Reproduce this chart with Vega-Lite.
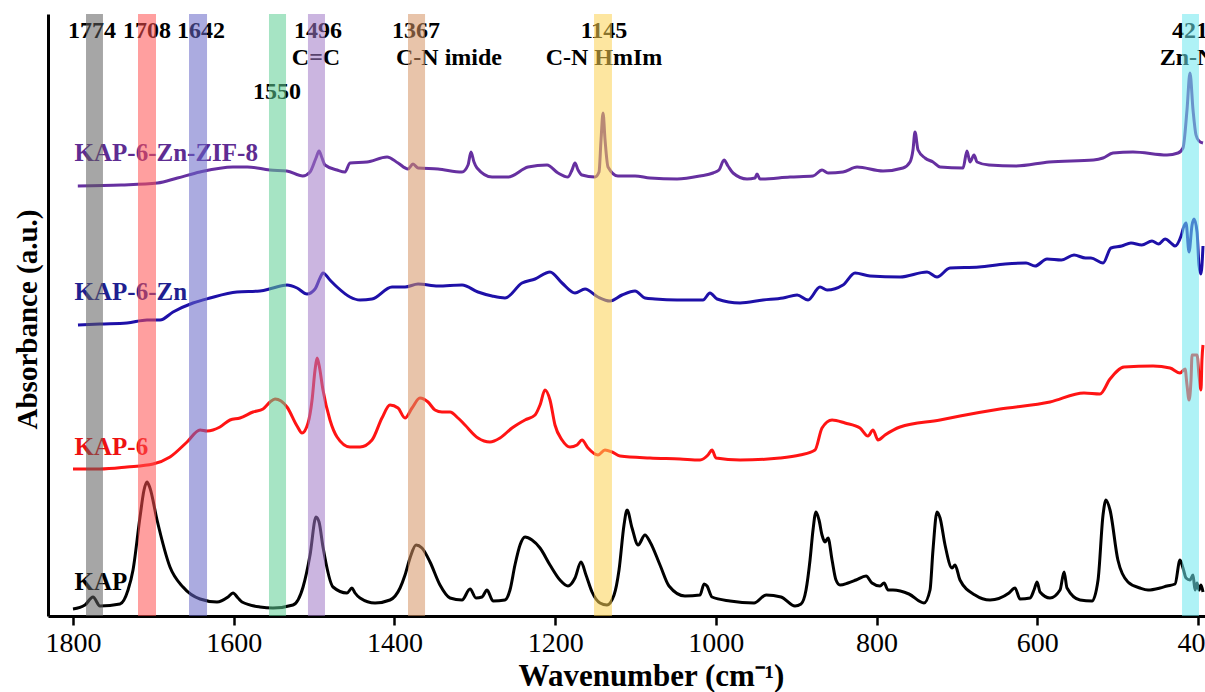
{
  "$schema": "https://vega.github.io/schema/vega-lite/v6.json",
  "width": 1157,
  "height": 602,
  "autosize": "none",
  "padding": {"left": 48, "top": 14, "right": 0, "bottom": 76},
  "background": "white",
  "config": {"view": {"stroke": null}},
  "datasets": {
    "spectra": [
      {"series":"KAP-6-Zn-ZIF-8","wavenumber":1794,"absorbance":4.30},{"series":"KAP-6-Zn-ZIF-8","wavenumber":1740,"absorbance":4.31},{"series":"KAP-6-Zn-ZIF-8","wavenumber":1695,"absorbance":4.33},{"series":"KAP-6-Zn-ZIF-8","wavenumber":1670,"absorbance":4.38},{"series":"KAP-6-Zn-ZIF-8","wavenumber":1642,"absorbance":4.44},{"series":"KAP-6-Zn-ZIF-8","wavenumber":1601,"absorbance":4.49},{"series":"KAP-6-Zn-ZIF-8","wavenumber":1583,"absorbance":4.49},{"series":"KAP-6-Zn-ZIF-8","wavenumber":1555,"absorbance":4.46},{"series":"KAP-6-Zn-ZIF-8","wavenumber":1534,"absorbance":4.45},{"series":"KAP-6-Zn-ZIF-8","wavenumber":1514,"absorbance":4.40},{"series":"KAP-6-Zn-ZIF-8","wavenumber":1505,"absorbance":4.44},{"series":"KAP-6-Zn-ZIF-8","wavenumber":1497.6,"absorbance":4.58},{"series":"KAP-6-Zn-ZIF-8","wavenumber":1493.8,"absorbance":4.65},{"series":"KAP-6-Zn-ZIF-8","wavenumber":1490.1,"absorbance":4.58},{"series":"KAP-6-Zn-ZIF-8","wavenumber":1486.4,"absorbance":4.51},{"series":"KAP-6-Zn-ZIF-8","wavenumber":1471.4,"absorbance":4.46},{"series":"KAP-6-Zn-ZIF-8","wavenumber":1461.5,"absorbance":4.44},{"series":"KAP-6-Zn-ZIF-8","wavenumber":1455.3,"absorbance":4.53},{"series":"KAP-6-Zn-ZIF-8","wavenumber":1434.1,"absorbance":4.54},{"series":"KAP-6-Zn-ZIF-8","wavenumber":1409.2,"absorbance":4.59},{"series":"KAP-6-Zn-ZIF-8","wavenumber":1395.5,"absorbance":4.53},{"series":"KAP-6-Zn-ZIF-8","wavenumber":1383.1,"absorbance":4.47},{"series":"KAP-6-Zn-ZIF-8","wavenumber":1376.9,"absorbance":4.52},{"series":"KAP-6-Zn-ZIF-8","wavenumber":1370.6,"absorbance":4.48},{"series":"KAP-6-Zn-ZIF-8","wavenumber":1345.8,"absorbance":4.47},{"series":"KAP-6-Zn-ZIF-8","wavenumber":1315.9,"absorbance":4.44},{"series":"KAP-6-Zn-ZIF-8","wavenumber":1308.4,"absorbance":4.51},{"series":"KAP-6-Zn-ZIF-8","wavenumber":1304.7,"absorbance":4.64},{"series":"KAP-6-Zn-ZIF-8","wavenumber":1301.0,"absorbance":4.54},{"series":"KAP-6-Zn-ZIF-8","wavenumber":1297.2,"absorbance":4.48},{"series":"KAP-6-Zn-ZIF-8","wavenumber":1278.5,"absorbance":4.39},{"series":"KAP-6-Zn-ZIF-8","wavenumber":1258.6,"absorbance":4.39},{"series":"KAP-6-Zn-ZIF-8","wavenumber":1233.7,"absorbance":4.49},{"series":"KAP-6-Zn-ZIF-8","wavenumber":1210.1,"absorbance":4.51},{"series":"KAP-6-Zn-ZIF-8","wavenumber":1196.4,"absorbance":4.43},{"series":"KAP-6-Zn-ZIF-8","wavenumber":1184.0,"absorbance":4.39},{"series":"KAP-6-Zn-ZIF-8","wavenumber":1179.0,"absorbance":4.46},{"series":"KAP-6-Zn-ZIF-8","wavenumber":1175.3,"absorbance":4.53},{"series":"KAP-6-Zn-ZIF-8","wavenumber":1171.5,"absorbance":4.46},{"series":"KAP-6-Zn-ZIF-8","wavenumber":1166.6,"absorbance":4.41},{"series":"KAP-6-Zn-ZIF-8","wavenumber":1150.4,"absorbance":4.39},{"series":"KAP-6-Zn-ZIF-8","wavenumber":1145.4,"absorbance":4.44},{"series":"KAP-6-Zn-ZIF-8","wavenumber":1142.9,"absorbance":4.76},{"series":"KAP-6-Zn-ZIF-8","wavenumber":1140.4,"absorbance":5.03},{"series":"KAP-6-Zn-ZIF-8","wavenumber":1137.9,"absorbance":4.76},{"series":"KAP-6-Zn-ZIF-8","wavenumber":1134.2,"absorbance":4.49},{"series":"KAP-6-Zn-ZIF-8","wavenumber":1121.8,"absorbance":4.40},{"series":"KAP-6-Zn-ZIF-8","wavenumber":1100.6,"absorbance":4.40},{"series":"KAP-6-Zn-ZIF-8","wavenumber":1081.9,"absorbance":4.38},{"series":"KAP-6-Zn-ZIF-8","wavenumber":1048.3,"absorbance":4.37},{"series":"KAP-6-Zn-ZIF-8","wavenumber":1019.7,"absorbance":4.40},{"series":"KAP-6-Zn-ZIF-8","wavenumber":1003.5,"absorbance":4.43},{"series":"KAP-6-Zn-ZIF-8","wavenumber":996.1,"absorbance":4.46},{"series":"KAP-6-Zn-ZIF-8","wavenumber":989.8,"absorbance":4.56},{"series":"KAP-6-Zn-ZIF-8","wavenumber":984.9,"absorbance":4.50},{"series":"KAP-6-Zn-ZIF-8","wavenumber":978.6,"absorbance":4.43},{"series":"KAP-6-Zn-ZIF-8","wavenumber":961.2,"absorbance":4.37},{"series":"KAP-6-Zn-ZIF-8","wavenumber":951.3,"absorbance":4.38},{"series":"KAP-6-Zn-ZIF-8","wavenumber":948.8,"absorbance":4.42},{"series":"KAP-6-Zn-ZIF-8","wavenumber":945.1,"absorbance":4.37},{"series":"KAP-6-Zn-ZIF-8","wavenumber":907.7,"absorbance":4.39},{"series":"KAP-6-Zn-ZIF-8","wavenumber":879.1,"absorbance":4.40},{"series":"KAP-6-Zn-ZIF-8","wavenumber":867.9,"absorbance":4.46},{"series":"KAP-6-Zn-ZIF-8","wavenumber":860.4,"absorbance":4.43},{"series":"KAP-6-Zn-ZIF-8","wavenumber":841.8,"absorbance":4.44},{"series":"KAP-6-Zn-ZIF-8","wavenumber":824.3,"absorbance":4.49},{"series":"KAP-6-Zn-ZIF-8","wavenumber":792.0,"absorbance":4.45},{"series":"KAP-6-Zn-ZIF-8","wavenumber":767.1,"absorbance":4.48},{"series":"KAP-6-Zn-ZIF-8","wavenumber":758.4,"absorbance":4.54},{"series":"KAP-6-Zn-ZIF-8","wavenumber":754.7,"absorbance":4.66},{"series":"KAP-6-Zn-ZIF-8","wavenumber":752.2,"absorbance":4.84},{"series":"KAP-6-Zn-ZIF-8","wavenumber":748.4,"absorbance":4.66},{"series":"KAP-6-Zn-ZIF-8","wavenumber":739.7,"absorbance":4.58},{"series":"KAP-6-Zn-ZIF-8","wavenumber":729.8,"absorbance":4.54},{"series":"KAP-6-Zn-ZIF-8","wavenumber":721.0,"absorbance":4.49},{"series":"KAP-6-Zn-ZIF-8","wavenumber":692.4,"absorbance":4.48},{"series":"KAP-6-Zn-ZIF-8","wavenumber":687.5,"absorbance":4.65},{"series":"KAP-6-Zn-ZIF-8","wavenumber":683.7,"absorbance":4.54},{"series":"KAP-6-Zn-ZIF-8","wavenumber":678.7,"absorbance":4.61},{"series":"KAP-6-Zn-ZIF-8","wavenumber":675.0,"absorbance":4.54},{"series":"KAP-6-Zn-ZIF-8","wavenumber":660.1,"absorbance":4.51},{"series":"KAP-6-Zn-ZIF-8","wavenumber":626.5,"absorbance":4.50},{"series":"KAP-6-Zn-ZIF-8","wavenumber":585.4,"absorbance":4.54},{"series":"KAP-6-Zn-ZIF-8","wavenumber":530.0,"absorbance":4.56},{"series":"KAP-6-Zn-ZIF-8","wavenumber":518.2,"absorbance":4.58},{"series":"KAP-6-Zn-ZIF-8","wavenumber":505.8,"absorbance":4.63},{"series":"KAP-6-Zn-ZIF-8","wavenumber":480.9,"absorbance":4.64},{"series":"KAP-6-Zn-ZIF-8","wavenumber":438.6,"absorbance":4.61},{"series":"KAP-6-Zn-ZIF-8","wavenumber":424.9,"absorbance":4.63},{"series":"KAP-6-Zn-ZIF-8","wavenumber":418.7,"absorbance":4.68},{"series":"KAP-6-Zn-ZIF-8","wavenumber":413.7,"absorbance":5.06},{"series":"KAP-6-Zn-ZIF-8","wavenumber":410.0,"absorbance":5.43},{"series":"KAP-6-Zn-ZIF-8","wavenumber":406.2,"absorbance":5.06},{"series":"KAP-6-Zn-ZIF-8","wavenumber":402.5,"absorbance":4.81},{"series":"KAP-6-Zn-ZIF-8","wavenumber":398.8,"absorbance":4.75},{"series":"KAP-6-Zn-ZIF-8","wavenumber":393.8,"absorbance":4.73},

      {"series":"KAP-6-Zn","wavenumber":1793.8,"absorbance":2.91},{"series":"KAP-6-Zn","wavenumber":1766.4,"absorbance":2.92},{"series":"KAP-6-Zn","wavenumber":1732.8,"absorbance":2.93},{"series":"KAP-6-Zn","wavenumber":1707.9,"absorbance":2.96},{"series":"KAP-6-Zn","wavenumber":1691.7,"absorbance":2.96},{"series":"KAP-6-Zn","wavenumber":1675.5,"absorbance":3.04},{"series":"KAP-6-Zn","wavenumber":1650.7,"absorbance":3.13},{"series":"KAP-6-Zn","wavenumber":1629.5,"absorbance":3.18},{"series":"KAP-6-Zn","wavenumber":1595.9,"absorbance":3.24},{"series":"KAP-6-Zn","wavenumber":1567.3,"absorbance":3.25},{"series":"KAP-6-Zn","wavenumber":1551.1,"absorbance":3.28},{"series":"KAP-6-Zn","wavenumber":1533.7,"absorbance":3.31},{"series":"KAP-6-Zn","wavenumber":1521.2,"absorbance":3.28},{"series":"KAP-6-Zn","wavenumber":1508.8,"absorbance":3.22},{"series":"KAP-6-Zn","wavenumber":1498.8,"absorbance":3.27},{"series":"KAP-6-Zn","wavenumber":1492.6,"absorbance":3.38},{"series":"KAP-6-Zn","wavenumber":1488.9,"absorbance":3.43},{"series":"KAP-6-Zn","wavenumber":1480.2,"absorbance":3.36},{"series":"KAP-6-Zn","wavenumber":1471.4,"absorbance":3.29},{"series":"KAP-6-Zn","wavenumber":1455.3,"absorbance":3.19},{"series":"KAP-6-Zn","wavenumber":1442.8,"absorbance":3.16},{"series":"KAP-6-Zn","wavenumber":1427.9,"absorbance":3.17},{"series":"KAP-6-Zn","wavenumber":1403.0,"absorbance":3.29},{"series":"KAP-6-Zn","wavenumber":1386.8,"absorbance":3.29},{"series":"KAP-6-Zn","wavenumber":1370.6,"absorbance":3.32},{"series":"KAP-6-Zn","wavenumber":1345.8,"absorbance":3.30},{"series":"KAP-6-Zn","wavenumber":1315.9,"absorbance":3.31},{"series":"KAP-6-Zn","wavenumber":1296.0,"absorbance":3.24},{"series":"KAP-6-Zn","wavenumber":1278.5,"absorbance":3.20},{"series":"KAP-6-Zn","wavenumber":1262.4,"absorbance":3.18},{"series":"KAP-6-Zn","wavenumber":1241.2,"absorbance":3.33},{"series":"KAP-6-Zn","wavenumber":1225.0,"absorbance":3.37},{"series":"KAP-6-Zn","wavenumber":1206.4,"absorbance":3.44},{"series":"KAP-6-Zn","wavenumber":1191.4,"absorbance":3.33},{"series":"KAP-6-Zn","wavenumber":1175.3,"absorbance":3.23},{"series":"KAP-6-Zn","wavenumber":1162.8,"absorbance":3.27},{"series":"KAP-6-Zn","wavenumber":1146.7,"absorbance":3.19},{"series":"KAP-6-Zn","wavenumber":1131.7,"absorbance":3.15},{"series":"KAP-6-Zn","wavenumber":1116.8,"absorbance":3.21},{"series":"KAP-6-Zn","wavenumber":1100.6,"absorbance":3.25},{"series":"KAP-6-Zn","wavenumber":1088.2,"absorbance":3.18},{"series":"KAP-6-Zn","wavenumber":1075.7,"absorbance":3.17},{"series":"KAP-6-Zn","wavenumber":1048.3,"absorbance":3.16},{"series":"KAP-6-Zn","wavenumber":1016.0,"absorbance":3.16},{"series":"KAP-6-Zn","wavenumber":1007.3,"absorbance":3.23},{"series":"KAP-6-Zn","wavenumber":998.5,"absorbance":3.17},{"series":"KAP-6-Zn","wavenumber":969.9,"absorbance":3.13},{"series":"KAP-6-Zn","wavenumber":941.3,"absorbance":3.16},{"series":"KAP-6-Zn","wavenumber":916.4,"absorbance":3.18},{"series":"KAP-6-Zn","wavenumber":898.9,"absorbance":3.21},{"series":"KAP-6-Zn","wavenumber":885.3,"absorbance":3.16},{"series":"KAP-6-Zn","wavenumber":870.4,"absorbance":3.29},{"series":"KAP-6-Zn","wavenumber":861.6,"absorbance":3.26},{"series":"KAP-6-Zn","wavenumber":841.8,"absorbance":3.31},{"series":"KAP-6-Zn","wavenumber":826.8,"absorbance":3.43},{"series":"KAP-6-Zn","wavenumber":808.2,"absorbance":3.40},{"series":"KAP-6-Zn","wavenumber":770.8,"absorbance":3.39},{"series":"KAP-6-Zn","wavenumber":737.2,"absorbance":3.44},{"series":"KAP-6-Zn","wavenumber":724.8,"absorbance":3.39},{"series":"KAP-6-Zn","wavenumber":708.6,"absorbance":3.48},{"series":"KAP-6-Zn","wavenumber":672.5,"absorbance":3.49},{"series":"KAP-6-Zn","wavenumber":640.0,"absorbance":3.52},{"series":"KAP-6-Zn","wavenumber":614.0,"absorbance":3.53},{"series":"KAP-6-Zn","wavenumber":602.8,"absorbance":3.50},{"series":"KAP-6-Zn","wavenumber":587.9,"absorbance":3.57},{"series":"KAP-6-Zn","wavenumber":570.0,"absorbance":3.56},{"series":"KAP-6-Zn","wavenumber":554.3,"absorbance":3.61},{"series":"KAP-6-Zn","wavenumber":540.0,"absorbance":3.58},{"series":"KAP-6-Zn","wavenumber":533.2,"absorbance":3.58},{"series":"KAP-6-Zn","wavenumber":518.2,"absorbance":3.53},{"series":"KAP-6-Zn","wavenumber":508.3,"absorbance":3.68},{"series":"KAP-6-Zn","wavenumber":495.0,"absorbance":3.70},{"series":"KAP-6-Zn","wavenumber":483.4,"absorbance":3.73},{"series":"KAP-6-Zn","wavenumber":470.0,"absorbance":3.71},{"series":"KAP-6-Zn","wavenumber":457.3,"absorbance":3.75},{"series":"KAP-6-Zn","wavenumber":449.0,"absorbance":3.72},{"series":"KAP-6-Zn","wavenumber":441.0,"absorbance":3.77},{"series":"KAP-6-Zn","wavenumber":432.3,"absorbance":3.72},{"series":"KAP-6-Zn","wavenumber":428.6,"absorbance":3.70},{"series":"KAP-6-Zn","wavenumber":421.1,"absorbance":3.80},{"series":"KAP-6-Zn","wavenumber":417.4,"absorbance":3.90},{"series":"KAP-6-Zn","wavenumber":414.9,"absorbance":3.93},{"series":"KAP-6-Zn","wavenumber":411.2,"absorbance":3.64},{"series":"KAP-6-Zn","wavenumber":407.4,"absorbance":3.91},{"series":"KAP-6-Zn","wavenumber":404.9,"absorbance":3.97},{"series":"KAP-6-Zn","wavenumber":401.2,"absorbance":3.84},{"series":"KAP-6-Zn","wavenumber":398.8,"absorbance":3.51},{"series":"KAP-6-Zn","wavenumber":396.3,"absorbance":3.42},{"series":"KAP-6-Zn","wavenumber":393.8,"absorbance":3.70},

      {"series":"KAP-6","wavenumber":1800,"absorbance":1.47},{"series":"KAP-6","wavenumber":1766.4,"absorbance":1.47},{"series":"KAP-6","wavenumber":1732.8,"absorbance":1.49},{"series":"KAP-6","wavenumber":1700.4,"absorbance":1.52},{"series":"KAP-6","wavenumber":1679.3,"absorbance":1.59},{"series":"KAP-6","wavenumber":1658.1,"absorbance":1.74},{"series":"KAP-6","wavenumber":1641.9,"absorbance":1.86},{"series":"KAP-6","wavenumber":1633.2,"absorbance":1.85},{"series":"KAP-6","wavenumber":1617.1,"absorbance":1.89},{"series":"KAP-6","wavenumber":1604.6,"absorbance":1.96},{"series":"KAP-6","wavenumber":1592.2,"absorbance":1.98},{"series":"KAP-6","wavenumber":1576.0,"absorbance":2.04},{"series":"KAP-6","wavenumber":1563.5,"absorbance":2.07},{"series":"KAP-6","wavenumber":1554.8,"absorbance":2.14},{"series":"KAP-6","wavenumber":1548.6,"absorbance":2.17},{"series":"KAP-6","wavenumber":1541.1,"absorbance":2.15},{"series":"KAP-6","wavenumber":1533.7,"absorbance":2.09},{"series":"KAP-6","wavenumber":1521.2,"absorbance":1.90},{"series":"KAP-6","wavenumber":1515.0,"absorbance":1.83},{"series":"KAP-6","wavenumber":1507.5,"absorbance":1.93},{"series":"KAP-6","wavenumber":1502.5,"absorbance":2.16},{"series":"KAP-6","wavenumber":1498.8,"absorbance":2.46},{"series":"KAP-6","wavenumber":1496.3,"absorbance":2.58},{"series":"KAP-6","wavenumber":1493.8,"absorbance":2.51},{"series":"KAP-6","wavenumber":1488.9,"absorbance":2.26},{"series":"KAP-6","wavenumber":1480.2,"absorbance":1.96},{"series":"KAP-6","wavenumber":1471.4,"absorbance":1.79},{"series":"KAP-6","wavenumber":1455.3,"absorbance":1.69},{"series":"KAP-6","wavenumber":1442.8,"absorbance":1.69},{"series":"KAP-6","wavenumber":1427.9,"absorbance":1.76},{"series":"KAP-6","wavenumber":1415.5,"absorbance":1.98},{"series":"KAP-6","wavenumber":1405.5,"absorbance":2.11},{"series":"KAP-6","wavenumber":1395.5,"absorbance":2.08},{"series":"KAP-6","wavenumber":1386.8,"absorbance":1.98},{"series":"KAP-6","wavenumber":1378.1,"absorbance":2.08},{"series":"KAP-6","wavenumber":1368.2,"absorbance":2.18},{"series":"KAP-6","wavenumber":1358.2,"absorbance":2.14},{"series":"KAP-6","wavenumber":1349.5,"absorbance":2.06},{"series":"KAP-6","wavenumber":1340.8,"absorbance":2.04},{"series":"KAP-6","wavenumber":1330.8,"absorbance":2.04},{"series":"KAP-6","wavenumber":1320.9,"absorbance":1.98},{"series":"KAP-6","wavenumber":1312.2,"absorbance":1.91},{"series":"KAP-6","wavenumber":1296.0,"absorbance":1.78},{"series":"KAP-6","wavenumber":1281.1,"absorbance":1.74},{"series":"KAP-6","wavenumber":1268.6,"absorbance":1.78},{"series":"KAP-6","wavenumber":1253.7,"absorbance":1.88},{"series":"KAP-6","wavenumber":1237.5,"absorbance":1.96},{"series":"KAP-6","wavenumber":1225.0,"absorbance":2.01},{"series":"KAP-6","wavenumber":1218.8,"absorbance":2.11},{"series":"KAP-6","wavenumber":1212.6,"absorbance":2.26},{"series":"KAP-6","wavenumber":1206.4,"absorbance":2.16},{"series":"KAP-6","wavenumber":1200.2,"absorbance":1.91},{"series":"KAP-6","wavenumber":1191.4,"absorbance":1.76},{"series":"KAP-6","wavenumber":1181.5,"absorbance":1.69},{"series":"KAP-6","wavenumber":1172.8,"absorbance":1.71},{"series":"KAP-6","wavenumber":1166.6,"absorbance":1.76},{"series":"KAP-6","wavenumber":1159.1,"absorbance":1.68},{"series":"KAP-6","wavenumber":1146.7,"absorbance":1.61},{"series":"KAP-6","wavenumber":1138.0,"absorbance":1.66},{"series":"KAP-6","wavenumber":1129.2,"absorbance":1.64},{"series":"KAP-6","wavenumber":1119.3,"absorbance":1.60},{"series":"KAP-6","wavenumber":1081.9,"absorbance":1.58},{"series":"KAP-6","wavenumber":1044.6,"absorbance":1.57},{"series":"KAP-6","wavenumber":1019.7,"absorbance":1.56},{"series":"KAP-6","wavenumber":1009.8,"absorbance":1.61},{"series":"KAP-6","wavenumber":1004.8,"absorbance":1.66},{"series":"KAP-6","wavenumber":999.8,"absorbance":1.58},{"series":"KAP-6","wavenumber":969.9,"absorbance":1.56},{"series":"KAP-6","wavenumber":920.2,"absorbance":1.58},{"series":"KAP-6","wavenumber":895.3,"absorbance":1.61},{"series":"KAP-6","wavenumber":876.6,"absorbance":1.66},{"series":"KAP-6","wavenumber":867.9,"absorbance":1.88},{"series":"KAP-6","wavenumber":855.4,"absorbance":1.96},{"series":"KAP-6","wavenumber":839.3,"absorbance":1.93},{"series":"KAP-6","wavenumber":820.6,"absorbance":1.88},{"series":"KAP-6","wavenumber":810.7,"absorbance":1.80},{"series":"KAP-6","wavenumber":804.4,"absorbance":1.86},{"series":"KAP-6","wavenumber":798.2,"absorbance":1.76},{"series":"KAP-6","wavenumber":789.5,"absorbance":1.81},{"series":"KAP-6","wavenumber":770.8,"absorbance":1.89},{"series":"KAP-6","wavenumber":721.0,"absorbance":1.96},{"series":"KAP-6","wavenumber":696.2,"absorbance":2.00},{"series":"KAP-6","wavenumber":646.4,"absorbance":2.07},{"series":"KAP-6","wavenumber":584.2,"absorbance":2.14},{"series":"KAP-6","wavenumber":541.9,"absorbance":2.23},{"series":"KAP-6","wavenumber":522.0,"absorbance":2.22},{"series":"KAP-6","wavenumber":509.5,"absorbance":2.37},{"series":"KAP-6","wavenumber":492.0,"absorbance":2.49},{"series":"KAP-6","wavenumber":456.0,"absorbance":2.50},{"series":"KAP-6","wavenumber":434.8,"absorbance":2.48},{"series":"KAP-6","wavenumber":422.4,"absorbance":2.43},{"series":"KAP-6","wavenumber":416.1,"absorbance":2.47},{"series":"KAP-6","wavenumber":413.7,"absorbance":2.31},{"series":"KAP-6","wavenumber":411.2,"absorbance":2.16},{"series":"KAP-6","wavenumber":408.7,"absorbance":2.36},{"series":"KAP-6","wavenumber":407.4,"absorbance":2.61},{"series":"KAP-6","wavenumber":401.2,"absorbance":2.61},{"series":"KAP-6","wavenumber":398.8,"absorbance":2.41},{"series":"KAP-6","wavenumber":396.3,"absorbance":2.26},{"series":"KAP-6","wavenumber":395.1,"absorbance":2.56},{"series":"KAP-6","wavenumber":393.8,"absorbance":2.71},

      {"series":"KAP","wavenumber":1800,"absorbance":0.07},{"series":"KAP","wavenumber":1785.1,"absorbance":0.11},{"series":"KAP","wavenumber":1775.1,"absorbance":0.19},{"series":"KAP","wavenumber":1766.4,"absorbance":0.10},{"series":"KAP","wavenumber":1741.5,"absorbance":0.12},{"series":"KAP","wavenumber":1731.5,"absorbance":0.26},{"series":"KAP","wavenumber":1725.3,"absorbance":0.46},{"series":"KAP","wavenumber":1716.6,"absorbance":0.99},{"series":"KAP","wavenumber":1711.6,"absorbance":1.26},{"series":"KAP","wavenumber":1707.9,"absorbance":1.34},{"series":"KAP","wavenumber":1704.2,"absorbance":1.28},{"series":"KAP","wavenumber":1695.4,"absorbance":0.96},{"series":"KAP","wavenumber":1679.3,"absorbance":0.49},{"series":"KAP","wavenumber":1663.1,"absorbance":0.29},{"series":"KAP","wavenumber":1641.9,"absorbance":0.17},{"series":"KAP","wavenumber":1620.8,"absorbance":0.14},{"series":"KAP","wavenumber":1607.1,"absorbance":0.19},{"series":"KAP","wavenumber":1600.9,"absorbance":0.23},{"series":"KAP","wavenumber":1594.6,"absorbance":0.18},{"series":"KAP","wavenumber":1589.6,"absorbance":0.14},{"series":"KAP","wavenumber":1567.3,"absorbance":0.09},{"series":"KAP","wavenumber":1551.1,"absorbance":0.08},{"series":"KAP","wavenumber":1526.2,"absorbance":0.11},{"series":"KAP","wavenumber":1513.7,"absorbance":0.29},{"series":"KAP","wavenumber":1505.0,"absorbance":0.61},{"series":"KAP","wavenumber":1497.6,"absorbance":0.99},{"series":"KAP","wavenumber":1493.8,"absorbance":0.94},{"series":"KAP","wavenumber":1488.9,"absorbance":0.69},{"series":"KAP","wavenumber":1476.4,"absorbance":0.29},{"series":"KAP","wavenumber":1459.0,"absorbance":0.23},{"series":"KAP","wavenumber":1452.8,"absorbance":0.28},{"series":"KAP","wavenumber":1449.0,"absorbance":0.23},{"series":"KAP","wavenumber":1442.8,"absorbance":0.18},{"series":"KAP","wavenumber":1424.1,"absorbance":0.13},{"series":"KAP","wavenumber":1405.5,"absorbance":0.16},{"series":"KAP","wavenumber":1393.0,"absorbance":0.28},{"series":"KAP","wavenumber":1386.8,"absorbance":0.41},{"series":"KAP","wavenumber":1380.6,"absorbance":0.58},{"series":"KAP","wavenumber":1373.1,"absorbance":0.71},{"series":"KAP","wavenumber":1365.7,"absorbance":0.68},{"series":"KAP","wavenumber":1355.7,"absorbance":0.54},{"series":"KAP","wavenumber":1343.3,"absorbance":0.31},{"series":"KAP","wavenumber":1330.8,"absorbance":0.18},{"series":"KAP","wavenumber":1315.9,"absorbance":0.16},{"series":"KAP","wavenumber":1305.9,"absorbance":0.27},{"series":"KAP","wavenumber":1298.5,"absorbance":0.18},{"series":"KAP","wavenumber":1291.0,"absorbance":0.19},{"series":"KAP","wavenumber":1284.8,"absorbance":0.26},{"series":"KAP","wavenumber":1277.3,"absorbance":0.15},{"series":"KAP","wavenumber":1262.4,"absorbance":0.16},{"series":"KAP","wavenumber":1256.2,"absorbance":0.26},{"series":"KAP","wavenumber":1250.0,"absorbance":0.51},{"series":"KAP","wavenumber":1243.7,"absorbance":0.71},{"series":"KAP","wavenumber":1237.5,"absorbance":0.79},{"series":"KAP","wavenumber":1228.8,"absorbance":0.76},{"series":"KAP","wavenumber":1218.8,"absorbance":0.68},{"series":"KAP","wavenumber":1206.4,"absorbance":0.51},{"series":"KAP","wavenumber":1194.0,"absorbance":0.36},{"series":"KAP","wavenumber":1184.0,"absorbance":0.30},{"series":"KAP","wavenumber":1175.3,"absorbance":0.38},{"series":"KAP","wavenumber":1167.8,"absorbance":0.54},{"series":"KAP","wavenumber":1161.6,"absorbance":0.41},{"series":"KAP","wavenumber":1154.1,"absorbance":0.24},{"series":"KAP","wavenumber":1144.2,"absorbance":0.13},{"series":"KAP","wavenumber":1135.5,"absorbance":0.11},{"series":"KAP","wavenumber":1126.7,"absorbance":0.21},{"series":"KAP","wavenumber":1120.5,"absorbance":0.46},{"series":"KAP","wavenumber":1114.3,"absorbance":0.91},{"series":"KAP","wavenumber":1110.5,"absorbance":1.06},{"series":"KAP","wavenumber":1104.3,"absorbance":0.88},{"series":"KAP","wavenumber":1096.8,"absorbance":0.71},{"series":"KAP","wavenumber":1088.2,"absorbance":0.81},{"series":"KAP","wavenumber":1081.9,"absorbance":0.74},{"series":"KAP","wavenumber":1069.5,"absorbance":0.51},{"series":"KAP","wavenumber":1058.3,"absorbance":0.30},{"series":"KAP","wavenumber":1038.4,"absorbance":0.20},{"series":"KAP","wavenumber":1019.7,"absorbance":0.21},{"series":"KAP","wavenumber":1014.7,"absorbance":0.32},{"series":"KAP","wavenumber":1011.0,"absorbance":0.30},{"series":"KAP","wavenumber":1004.8,"absorbance":0.19},{"series":"KAP","wavenumber":982.4,"absorbance":0.15},{"series":"KAP","wavenumber":952.5,"absorbance":0.13},{"series":"KAP","wavenumber":937.5,"absorbance":0.21},{"series":"KAP","wavenumber":918.9,"absorbance":0.19},{"series":"KAP","wavenumber":901.5,"absorbance":0.10},{"series":"KAP","wavenumber":894.0,"absorbance":0.12},{"series":"KAP","wavenumber":887.8,"absorbance":0.26},{"series":"KAP","wavenumber":882.8,"absorbance":0.56},{"series":"KAP","wavenumber":879.1,"absorbance":0.86},{"series":"KAP","wavenumber":875.4,"absorbance":1.04},{"series":"KAP","wavenumber":871.6,"absorbance":0.96},{"series":"KAP","wavenumber":867.9,"absorbance":0.81},{"series":"KAP","wavenumber":864.2,"absorbance":0.74},{"series":"KAP","wavenumber":860.4,"absorbance":0.78},{"series":"KAP","wavenumber":855.4,"absorbance":0.56},{"series":"KAP","wavenumber":850.5,"absorbance":0.36},{"series":"KAP","wavenumber":845.5,"absorbance":0.31},{"series":"KAP","wavenumber":835.5,"absorbance":0.33},{"series":"KAP","wavenumber":825.6,"absorbance":0.36},{"series":"KAP","wavenumber":813.1,"absorbance":0.40},{"series":"KAP","wavenumber":805.7,"absorbance":0.33},{"series":"KAP","wavenumber":795.7,"absorbance":0.30},{"series":"KAP","wavenumber":790.7,"absorbance":0.33},{"series":"KAP","wavenumber":785.7,"absorbance":0.26},{"series":"KAP","wavenumber":779.6,"absorbance":0.26},{"series":"KAP","wavenumber":759.7,"absorbance":0.22},{"series":"KAP","wavenumber":741.0,"absorbance":0.13},{"series":"KAP","wavenumber":733.5,"absorbance":0.26},{"series":"KAP","wavenumber":729.8,"absorbance":0.66},{"series":"KAP","wavenumber":724.8,"absorbance":1.04},{"series":"KAP","wavenumber":721.0,"absorbance":0.98},{"series":"KAP","wavenumber":714.8,"absorbance":0.71},{"series":"KAP","wavenumber":706.1,"absorbance":0.48},{"series":"KAP","wavenumber":702.4,"absorbance":0.51},{"series":"KAP","wavenumber":696.2,"absorbance":0.36},{"series":"KAP","wavenumber":677.5,"absorbance":0.21},{"series":"KAP","wavenumber":658.8,"absorbance":0.16},{"series":"KAP","wavenumber":635.2,"absorbance":0.23},{"series":"KAP","wavenumber":627.7,"absorbance":0.28},{"series":"KAP","wavenumber":621.5,"absorbance":0.17},{"series":"KAP","wavenumber":609.0,"absorbance":0.18},{"series":"KAP","wavenumber":604.1,"absorbance":0.26},{"series":"KAP","wavenumber":600.3,"absorbance":0.34},{"series":"KAP","wavenumber":596.6,"absorbance":0.24},{"series":"KAP","wavenumber":584.2,"absorbance":0.18},{"series":"KAP","wavenumber":571.7,"absorbance":0.26},{"series":"KAP","wavenumber":566.7,"absorbance":0.44},{"series":"KAP","wavenumber":563.0,"absorbance":0.28},{"series":"KAP","wavenumber":546.8,"absorbance":0.16},{"series":"KAP","wavenumber":531.9,"absorbance":0.15},{"series":"KAP","wavenumber":524.4,"absorbance":0.36},{"series":"KAP","wavenumber":518.2,"absorbance":1.01},{"series":"KAP","wavenumber":514.5,"absorbance":1.16},{"series":"KAP","wavenumber":509.5,"absorbance":1.06},{"series":"KAP","wavenumber":499.7,"absorbance":0.56},{"series":"KAP","wavenumber":487.2,"absorbance":0.34},{"series":"KAP","wavenumber":472.2,"absorbance":0.28},{"series":"KAP","wavenumber":462.2,"absorbance":0.26},{"series":"KAP","wavenumber":447.3,"absorbance":0.28},{"series":"KAP","wavenumber":438.6,"absorbance":0.30},{"series":"KAP","wavenumber":428.6,"absorbance":0.32},{"series":"KAP","wavenumber":422.4,"absorbance":0.56},{"series":"KAP","wavenumber":418.7,"absorbance":0.48},{"series":"KAP","wavenumber":414.9,"absorbance":0.38},{"series":"KAP","wavenumber":410.0,"absorbance":0.36},{"series":"KAP","wavenumber":406.2,"absorbance":0.41},{"series":"KAP","wavenumber":403.7,"absorbance":0.26},{"series":"KAP","wavenumber":401.2,"absorbance":0.33},{"series":"KAP","wavenumber":398.8,"absorbance":0.26},{"series":"KAP","wavenumber":396.3,"absorbance":0.31},{"series":"KAP","wavenumber":393.8,"absorbance":0.24}
    ],
    "bands": [
      {"band":"1774","lo":1762.7,"hi":1783.8},
      {"band":"1708","lo":1696.7,"hi":1719.1},
      {"band":"1642","lo":1633.2,"hi":1655.6},
      {"band":"1550","lo":1534.9,"hi":1556.1},
      {"band":"1496","lo":1486.4,"hi":1507.6},
      {"band":"1367","lo":1361.9,"hi":1383.1},
      {"band":"1145","lo":1129.3,"hi":1151.6},
      {"band":"421","lo":398.8,"hi":419.9}
    ],
    "bandLabels": [
      {"label":"1774","wavenumber":1776.4,"absorbance":5.85},
      {"label":"1708","wavenumber":1707.9,"absorbance":5.85},
      {"label":"1642","wavenumber":1640.7,"absorbance":5.85},
      {"label":"1550","wavenumber":1546.1,"absorbance":5.24},
      {"label":"1496","wavenumber":1495.1,"absorbance":5.85},
      {"label":"C=C","wavenumber":1497.6,"absorbance":5.58},
      {"label":"1367","wavenumber":1373.2,"absorbance":5.85},
      {"label":"C-N imide","wavenumber":1332.1,"absorbance":5.58},
      {"label":"1145","wavenumber":1139.2,"absorbance":5.85},
      {"label":"C-N HmIm","wavenumber":1139.2,"absorbance":5.58},
      {"label":"421","wavenumber":410.0,"absorbance":5.85},
      {"label":"Zn-N","wavenumber":413.7,"absorbance":5.58}
    ],
    "seriesLabels": [
      {"series":"KAP-6-Zn-ZIF-8","wavenumber":1798,"absorbance":4.63},
      {"series":"KAP-6-Zn","wavenumber":1798,"absorbance":3.24},
      {"series":"KAP-6","wavenumber":1798,"absorbance":1.69},
      {"series":"KAP","wavenumber":1798,"absorbance":0.34}
    ]
  },
  "resolve": {"scale": {"color": "independent"}},
  "layer": [
    {
      "data": {"name": "spectra"},
      "mark": {"type": "line", "strokeWidth": 3, "clip": true, "interpolate": "monotone"},
      "encoding": {
        "x": {
          "field": "wavenumber", "type": "quantitative",
          "scale": {"domain": [391.3, 1831.1], "reverse": true, "nice": false, "zero": false},
          "axis": {
            "title": "Wavenumber (cm⁻¹)",
            "values": [1800, 1600, 1400, 1200, 1000, 800, 600, 400],
            "format": "d",
            "grid": false,
            "domainColor": "black", "domainWidth": 3,
            "tickColor": "black", "tickWidth": 2.5, "tickSize": 9,
            "labelFont": "Liberation Serif", "labelFontSize": 28, "labelColor": "black", "labelPadding": 4,
            "labelOverlap": false, "labelFlush": false,
            "titleFont": "Liberation Serif", "titleFontSize": 31, "titleFontWeight": "bold", "titleColor": "black",
            "titlePadding": 4, "titleX": 603
          }
        },
        "y": {
          "field": "absorbance", "type": "quantitative",
          "scale": {"domain": [0, 6.02], "nice": false, "zero": false},
          "axis": {
            "title": "Absorbance (a.u.)",
            "labels": false, "ticks": false, "grid": false,
            "domainColor": "black", "domainWidth": 3,
            "titleFont": "Liberation Serif", "titleFontSize": 29, "titleFontWeight": "bold", "titleColor": "black",
            "titlePadding": 6, "titleY": 305
          }
        },
        "color": {
          "field": "series", "type": "nominal",
          "scale": {"domain": ["KAP-6-Zn-ZIF-8", "KAP-6-Zn", "KAP-6", "KAP"], "range": ["#6630a0", "#1e10a8", "#ff1414", "#000000"]},
          "legend": null
        },
        "detail": {"field": "series"}
      }
    },
    {
      "data": {"name": "bandLabels"},
      "mark": {"type": "text", "font": "Liberation Serif", "fontSize": 24, "fontWeight": "bold", "align": "center", "baseline": "middle", "color": "black"},
      "encoding": {
        "x": {"field": "wavenumber", "type": "quantitative"},
        "y": {"field": "absorbance", "type": "quantitative"},
        "text": {"field": "label"}
      }
    },
    {
      "data": {"name": "seriesLabels"},
      "mark": {"type": "text", "font": "Liberation Serif", "fontSize": 25, "fontWeight": "bold", "align": "left", "baseline": "middle"},
      "encoding": {
        "x": {"field": "wavenumber", "type": "quantitative"},
        "y": {"field": "absorbance", "type": "quantitative"},
        "text": {"field": "series"},
        "color": {
          "field": "series", "type": "nominal",
          "scale": {"domain": ["KAP-6-Zn-ZIF-8", "KAP-6-Zn", "KAP-6", "KAP"], "range": ["#5e2c92", "#1f1f90", "#ee1111", "#000000"]},
          "legend": null
        }
      }
    },
    {
      "data": {"name": "bands"},
      "mark": {"type": "rect", "opacity": 0.55},
      "encoding": {
        "x": {"field": "lo", "type": "quantitative"},
        "x2": {"field": "hi"},
        "y": {"datum": 0},
        "y2": {"datum": 6.02},
        "color": {
          "field": "band", "type": "nominal",
          "scale": {"domain": ["1774", "1708", "1642", "1550", "1496", "1367", "1145", "421"], "range": ["#5d5d5d", "#ff5050", "#6666c7", "#5dce94", "#a078c7", "#d59464", "#fbd252", "#6ee7ef"]},
          "legend": null
        }
      }
    }
  ]
}
